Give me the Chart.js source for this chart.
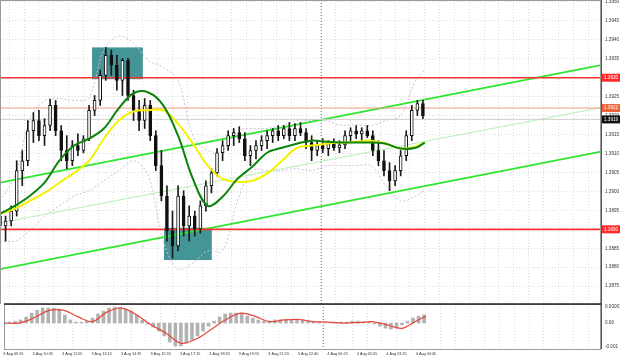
<!DOCTYPE html>
<html>
<head>
<meta charset="utf-8">
<script src="https://cdn.jsdelivr.net/npm/chart.js@4.4.0/dist/chart.umd.min.js"></script>
<style>
  html, body { margin: 0; padding: 0; background: #fff; }
  #wrap { position: relative; width: 620px; height: 360px; }
  #priceBox { position: absolute; left: 0; top: 0; width: 620px; height: 304px; }
  #macdBox { position: absolute; left: 0; top: 303px; width: 620px; height: 57px; }
</style>
</head>
<body>
<div id="wrap">
  <div id="priceBox"><canvas id="priceChart"></canvas></div>
  <div id="macdBox"><canvas id="macdChart"></canvas></div>
</div>
<script>
// M5 chart, one candle drawn per 3 bars
var candleStep = 3;
var candleOpen = [
  1.38935,1.38909,1.38922,1.38948,1.39055,1.39081,1.39160,1.39187,1.39147,1.39174,
  1.39227,1.39160,1.39108,1.39081,1.39121,1.39108,1.39139,1.39214,1.39240,1.39306,
  1.39359,1.39333,1.39293,1.39346,1.39253,1.39214,1.39187,1.39227,1.39147,1.39068,
  1.38988,1.38896,1.38856,1.38988,1.38909,1.38935,1.38901,1.38962,1.39015,1.39049,
  1.39102,1.39121,1.39147,1.39155,1.39139,1.39094,1.39108,1.39121,1.39134,1.39147,
  1.39160,1.39147,1.39166,1.39147,1.39166,1.39155,1.39129,1.39108,1.39121,1.39113,
  1.39126,1.39115,1.39123,1.39147,1.39160,1.39152,1.39160,1.39147,1.39108,1.39081,
  1.39055,1.39028,1.39055,1.39094,1.39147,1.39214,1.39232
];
var candleHigh = [
  1.38962,1.38935,1.38962,1.39081,1.39108,1.39187,1.39208,1.39214,1.39192,1.39243,
  1.39240,1.39174,1.39147,1.39134,1.39152,1.39147,1.39227,1.39253,1.39320,1.39380,
  1.39373,1.39359,1.39351,1.39351,1.39267,1.39240,1.39245,1.39240,1.39160,1.39108,
  1.39015,1.38948,1.39015,1.39002,1.38962,1.38948,1.38975,1.39028,1.39060,1.39113,
  1.39134,1.39160,1.39166,1.39171,1.39155,1.39121,1.39134,1.39147,1.39160,1.39166,
  1.39174,1.39174,1.39182,1.39179,1.39182,1.39166,1.39147,1.39134,1.39139,1.39134,
  1.39139,1.39134,1.39160,1.39168,1.39174,1.39168,1.39174,1.39160,1.39134,1.39108,
  1.39076,1.39068,1.39108,1.39160,1.39227,1.39240,1.39240
];
var candleLow = [
  1.38890,1.38869,1.38909,1.38935,1.39015,1.39068,1.39129,1.39134,1.39121,1.39160,
  1.39147,1.39081,1.39060,1.39068,1.39094,1.39102,1.39134,1.39200,1.39227,1.39293,
  1.39306,1.39267,1.39253,1.39240,1.39187,1.39160,1.39166,1.39134,1.39055,1.38975,
  1.38869,1.38824,1.38843,1.38882,1.38869,1.38882,1.38890,1.38948,1.38996,1.39041,
  1.39081,1.39108,1.39121,1.39129,1.39081,1.39068,1.39086,1.39108,1.39113,1.39129,
  1.39134,1.39139,1.39134,1.39134,1.39147,1.39113,1.39081,1.39094,1.39102,1.39094,
  1.39108,1.39102,1.39113,1.39134,1.39139,1.39134,1.39142,1.39094,1.39068,1.39041,
  1.39002,1.39015,1.39041,1.39081,1.39134,1.39200,1.39192
];
var candleClose = [
  1.38909,1.38922,1.38948,1.39055,1.39081,1.39160,1.39187,1.39147,1.39174,1.39227,
  1.39160,1.39108,1.39081,1.39121,1.39108,1.39139,1.39214,1.39240,1.39306,1.39359,
  1.39333,1.39293,1.39346,1.39253,1.39214,1.39187,1.39227,1.39147,1.39068,1.38988,
  1.38896,1.38856,1.38988,1.38909,1.38935,1.38901,1.38962,1.39015,1.39049,1.39102,
  1.39121,1.39147,1.39155,1.39139,1.39094,1.39108,1.39121,1.39134,1.39147,1.39160,
  1.39147,1.39166,1.39147,1.39166,1.39155,1.39129,1.39108,1.39121,1.39113,1.39126,
  1.39115,1.39123,1.39147,1.39160,1.39152,1.39160,1.39147,1.39108,1.39081,1.39055,
  1.39028,1.39055,1.39094,1.39147,1.39214,1.39232,1.39200
];

// moving averages and bands, sampled at these bars
var maBars = [0,8,16,24,32,40,48,56,64,72,80,88,96,104,112,120,128,136,144,152,160,168,176,184,192,200,208,216,224,229];
var greenMA = [1.38941,1.38962,1.38988,1.39023,1.39081,1.39121,1.39139,1.39166,1.39219,1.39259,1.39261,1.39227,1.39147,1.39033,1.38962,
  1.38986,1.39033,1.39065,1.39102,1.39115,1.39126,1.39134,1.39131,1.39129,1.39129,1.39129,1.39126,1.39113,1.39115,1.39129];
var yellowMA = [1.38941,1.38954,1.38975,1.38996,1.39023,1.39049,1.39081,1.39139,1.39187,1.39211,1.39214,1.39214,1.39179,1.39126,1.39068,
  1.39033,1.39025,1.39028,1.39047,1.39081,1.39115,1.39121,1.39126,1.39129,1.39131,1.39134,1.39126,1.39113,1.39118,1.39129];
var bandUpper = [1.38975,1.39041,1.39187,1.39240,1.39245,1.39240,1.39248,1.39373,1.39410,1.39391,1.39346,1.39327,1.39293,1.39147,1.39108,
  1.39108,1.39160,1.39166,1.39166,1.39174,1.39187,1.39187,1.39187,1.39174,1.39176,1.39174,1.39187,1.39200,1.39293,1.39320];
var bandLower = [1.38869,1.38869,1.38896,1.38935,1.38962,1.38988,1.39002,1.39028,1.39055,1.39081,1.39041,1.38869,1.38795,1.38811,1.38843,
  1.38843,1.38975,1.39055,1.39055,1.39055,1.39060,1.39055,1.39068,1.39068,1.39068,1.39068,1.39015,1.38975,1.38988,1.39002];

// channel (value at bar 0, value at last bar)
var channelUpper = [1.39023, 1.39333];
var channelMiddle = [1.38917, 1.39221];
var channelLower = [1.38795, 1.39105];

var levelRed = [1.3930, 1.3890];
var levelOrange = 1.3922;
var lastPrice = 1.3919;

// zones: start bar, end bar, top price, bottom price
var zoneStart = [49.6, 88.4];
var zoneEnd = [77, 114.2];
var zoneTop = [1.39380, 1.38904];
var zoneBottom = [1.39296, 1.38819];

// MACD histogram per candle, signal line at maBars
var macdHist = [
  0.00004,0.00004,0.00008,0.00013,0.00025,0.00042,0.00054,0.00063,0.00063,0.00063,
  0.00059,0.00034,0.00013,0.00004,0.00004,0.00008,0.00021,0.00038,0.00050,0.00063,
  0.00067,0.00067,0.00059,0.00050,0.00034,0.00013,-0.00004,-0.00017,-0.00034,-0.00054,
  -0.00080,-0.00096,-0.00096,-0.00084,-0.00071,-0.00054,-0.00034,-0.00013,0.00008,0.00025,
  0.00038,0.00042,0.00042,0.00042,0.00029,0.00021,0.00013,0.00008,0.00008,0.00013,
  0.00013,0.00013,0.00013,0.00013,0.00013,0.00008,0.00004,0.00004,0,0,
  0,0.00004,0.00004,0.00008,0.00008,0.00004,0.00004,-0.00004,-0.00013,-0.00021,
  -0.00025,-0.00021,-0.00008,0.00008,0.00021,0.00029,0.00034
];
var macdSignal = [0,0,0.00021,0.00052,0.00054,0.00027,0.00006,0.00047,0.00063,0.00034,-0.00008,-0.00043,-0.00085,-0.00068,-0.00029,
  0.00013,0.00041,0.00029,0.00006,0.00013,0.00015,0.00006,0.00004,0,0.00002,0.00006,-0.00008,-0.00022,0.0001,0.00029];

var priceTicks = [1.3875,1.3880,1.3885,1.3890,1.3895,1.3900,1.3905,1.3910,1.3915,1.3920,1.3925,1.3930,1.3935,1.3940,1.3945,1.3950];
var macdTicks = [0.00067, 0, -0.001];
var macdTickLabels = ['0.00067', '0.00', '-0.001'];
var timeLabels = ['3 Aug 09:15','3 Aug 10:35','3 Aug 11:55','3 Aug 13:15','3 Aug 14:35','3 Aug 15:55','3 Aug 17:15',
  '3 Aug 18:35','3 Aug 19:55','3 Aug 21:20','3 Aug 22:40','4 Aug 00:25','4 Aug 02:05','4 Aug 03:25','4 Aug 04:45'];
var firstLabelBar = 5;
var labelEvery = 16;
var dayBreakBar = 173;
var lastBar = 324;

var timeFont = { family: 'Liberation Sans', size: 3.8 };

function gridTicks(scale) {
  var t = [];
  for (var b = firstLabelBar; b <= lastBar; b += labelEvery / 2) t.push({ value: b });
  scale.ticks = t;
}
function timeLabel(v) {
  var k = (v - firstLabelBar) / labelEvery;
  if (k % 1 !== 0 || k >= timeLabels.length) return '';
  return timeLabels[k];
}
function pts(ys) {
  return ys.map(function (v, i) { return { x: maBars[i], y: v }; });
}
function twoPts(pair) {
  return [{ x: 0, y: pair[0] }, { x: lastBar, y: pair[1] }];
}

var wicks = [], bodies = [], bodyColors = [], hist = [];
for (var i = 0; i < candleOpen.length; i++) {
  wicks.push({ x: i * candleStep, y: [candleLow[i], candleHigh[i]] });
  bodies.push({ x: i * candleStep, y: [candleOpen[i], candleClose[i]] });
  bodyColors.push(candleClose[i] >= candleOpen[i] ? '#ffffff' : '#111111');
  hist.push({ x: i * candleStep, y: macdHist[i] });
}

var lineStyle = function (label, data, color, width, dash, order) {
  return { type: 'line', label: label, data: data, borderColor: color, borderWidth: width,
    borderDash: dash || [], pointRadius: 0, fill: false, tension: 0.35, order: order };
};

// zones, day separator, frame and right-hand price labels
var framePlugin = {
  id: 'frame',
  beforeDatasetsDraw: function (chart) {
    var ctx = chart.ctx, xs = chart.scales.x, a = chart.chartArea;
    ctx.save();
    if (chart.canvas.id === 'priceChart') {
      var ys = chart.scales.y;
      ctx.fillStyle = 'rgba(52,140,140,0.92)';
      for (var z = 0; z < zoneStart.length; z++) {
        var x0 = xs.getPixelForValue(zoneStart[z]), x1 = xs.getPixelForValue(zoneEnd[z]);
        var y0 = ys.getPixelForValue(zoneTop[z]), y1 = ys.getPixelForValue(zoneBottom[z]);
        ctx.fillRect(x0, y0, x1 - x0, y1 - y0);
      }
    }
    var dx = Math.round(xs.getPixelForValue(dayBreakBar)) + 0.5;
    ctx.strokeStyle = '#8c8c8c';
    ctx.lineWidth = 1;
    ctx.setLineDash([1, 2]);
    ctx.beginPath(); ctx.moveTo(dx, a.top); ctx.lineTo(dx, a.bottom); ctx.stroke();
    ctx.restore();
  },
  afterDraw: function (chart) {
    var ctx = chart.ctx, a = chart.chartArea, ys = chart.scales.y;
    ctx.save();
    ctx.strokeStyle = '#9a9a9a';
    ctx.lineWidth = 1;
    ctx.strokeRect(a.left + 0.5, a.top + 0.5, a.right - a.left - 1, a.bottom - a.top);
    ctx.strokeStyle = '#555';
    ctx.beginPath(); ctx.moveTo(a.right + 0.5, 0); ctx.lineTo(a.right + 0.5, a.bottom); ctx.stroke();
    ctx.font = '4.6px "Liberation Sans"';
    ctx.textBaseline = 'middle';
    ctx.fillStyle = '#333';
    if (chart.canvas.id === 'macdChart') {
      macdTicks.forEach(function (v, k) {
        ctx.fillText(macdTickLabels[k], a.right + 4, ys.getPixelForValue(v));
      });
      ctx.strokeStyle = '#222';
      ctx.lineWidth = 1.5;
      ctx.beginPath(); ctx.moveTo(a.left, a.top); ctx.lineTo(a.right, a.top); ctx.stroke();
    } else {
      priceTicks.forEach(function (v) {
        ctx.fillText(v.toFixed(4), a.right + 4, ys.getPixelForValue(v));
      });
      var tags = [[levelRed[0], '#ff2a2a'], [levelOrange, '#f0643c'], [lastPrice, '#111111'], [levelRed[1], '#ff2a2a']];
      tags.forEach(function (t) {
        var py = ys.getPixelForValue(t[0]);
        ctx.fillStyle = t[1];
        ctx.fillRect(a.right + 1, py - 4, 19, 8);
        ctx.fillStyle = '#fff';
        ctx.fillText(t[0].toFixed(4), a.right + 3, py);
      });
    }
    ctx.restore();
  }
};

var gridOpts = { color: '#dcdcdc', lineWidth: 1, drawTicks: false, offset: false };

new Chart(document.getElementById('priceChart'), {
  type: 'bar',
  data: {
    datasets: [
      lineStyle('Upper band', pts(bandUpper), '#d9b8e3', 1, [2, 2], 8),
      lineStyle('Lower band', pts(bandLower), '#d9b8e3', 1, [2, 2], 8),
      lineStyle('Channel mid', twoPts(channelMiddle), '#b4f0b4', 1, [], 7),
      lineStyle('Channel top', twoPts(channelUpper), '#2fe62f', 1.8, [], 6),
      lineStyle('Channel bottom', twoPts(channelLower), '#2fe62f', 1.8, [], 6),
      lineStyle('Resistance', twoPts([levelRed[0], levelRed[0]]), '#ff3030', 1.6, [], 5),
      lineStyle('Support', twoPts([levelRed[1], levelRed[1]]), '#ff3030', 1.6, [], 5),
      lineStyle('Level', twoPts([levelOrange, levelOrange]), '#f39a7e', 1, [], 5),
      lineStyle('Bid', twoPts([lastPrice, lastPrice]), '#cfcfcf', 1, [], 5),
      { type: 'bar', label: 'wick', data: wicks, backgroundColor: '#1a1a1a', barThickness: 1, grouped: false, order: 3 },
      { type: 'bar', label: 'body', data: bodies, backgroundColor: bodyColors, borderColor: '#111', borderWidth: 1,
        borderSkipped: false, barThickness: 3, grouped: false, order: 2 },
      lineStyle('MA slow', pts(yellowMA), '#f2f200', 2, [], 1),
      lineStyle('MA fast', pts(greenMA), '#0b840b', 2, [], 0)
    ]
  },
  options: {
    responsive: true, maintainAspectRatio: false, animation: false,
    layout: { padding: 0 },
    plugins: { legend: { display: false }, tooltip: { enabled: false } },
    scales: {
      x: {
        type: 'linear', min: 0, max: lastBar, offset: false,
        afterBuildTicks: gridTicks,
        afterFit: function (s) { s.height = 0; },
        ticks: { display: false },
        grid: gridOpts,
        border: { display: false, dash: [1, 2] }
      },
      y: {
        position: 'right', min: 1.38703, max: 1.39505,
        afterBuildTicks: function (s) { s.ticks = priceTicks.map(function (v) { return { value: v }; }); },
        afterFit: function (s) { s.width = 19; },
        ticks: { display: false },
        grid: gridOpts,
        border: { display: false, dash: [1, 2] }
      }
    }
  },
  plugins: [framePlugin]
});

new Chart(document.getElementById('macdChart'), {
  type: 'bar',
  data: {
    datasets: [
      { type: 'bar', label: 'MACD', data: hist, backgroundColor: '#b3b3b3', barThickness: 3, order: 2 },
      lineStyle('Signal', pts(macdSignal), '#e8473d', 1.2, [], 1)
    ]
  },
  options: {
    responsive: true, maintainAspectRatio: false, animation: false,
    layout: { padding: { top: 1 } },
    plugins: { legend: { display: false }, tooltip: { enabled: false } },
    scales: {
      x: {
        type: 'linear', min: 0, max: lastBar, offset: false,
        afterBuildTicks: gridTicks,
        afterFit: function (s) { s.height = 11; },
        ticks: { font: timeFont, color: '#333', padding: 3, maxRotation: 0, autoSkip: false, callback: timeLabel },
        grid: gridOpts,
        border: { display: false, dash: [1, 2] }
      },
      y: {
        position: 'right', min: -0.00109, max: 0.0008,
        afterBuildTicks: function (s) { s.ticks = macdTicks.map(function (v) { return { value: v }; }); },
        afterFit: function (s) { s.width = 19; },
        ticks: { display: false },
        grid: { display: false },
        border: { display: false }
      }
    }
  },
  plugins: [framePlugin]
});
</script>
</body>
</html>
